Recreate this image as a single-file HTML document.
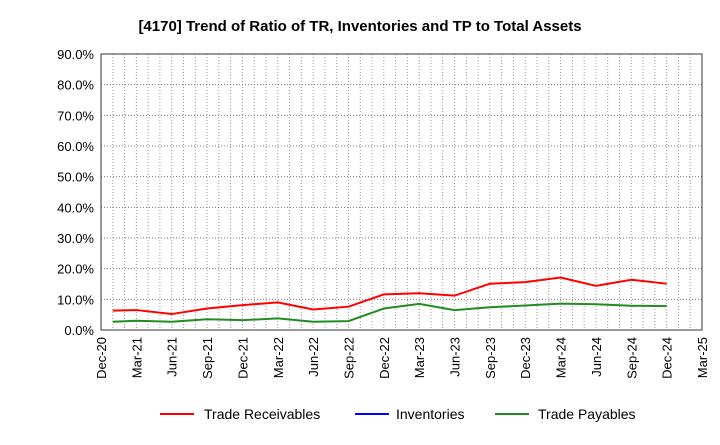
<!DOCTYPE html>
<html><head><meta charset="utf-8"><style>
body{margin:0;background:#fff;font-family:"Liberation Sans",sans-serif}
</style></head><body>
<svg id="c" width="720" height="440" xmlns="http://www.w3.org/2000/svg">
<text x="360" y="31" text-anchor="middle" font-size="15" font-weight="bold">[4170]  Trend of Ratio of TR, Inventories and TP to Total Assets</text>
<g id="grid"></g><g id="axes"></g><g id="series"></g>
<g>
<line x1="160" y1="414" x2="194" y2="414" stroke="#ff0000" stroke-width="2"/>
<text x="204" y="419" font-size="14">Trade Receivables</text>
<line x1="355" y1="414" x2="389" y2="414" stroke="#0000ff" stroke-width="2"/>
<text x="396" y="419" font-size="14">Inventories</text>
<line x1="495" y1="414" x2="529" y2="414" stroke="#228b22" stroke-width="2"/>
<text x="538" y="419" font-size="14">Trade Payables</text>
</g>
</svg>
<script>
const xTickLabels=["Dec-20","Mar-21","Jun-21","Sep-21","Dec-21","Mar-22","Jun-22","Sep-22","Dec-22","Mar-23","Jun-23","Sep-23","Dec-23","Mar-24","Jun-24","Sep-24","Dec-24","Mar-25"];
const yTicks=[0,10,20,30,40,50,60,70,80,90];
const pointMonths=[1,3,6,9,12,15,18,21,24,27,30,33,36,39,42,45,48];
const tradeReceivables=[6.3,6.5,5.2,7.0,8.1,9.0,6.7,7.6,11.6,12.0,11.2,15.1,15.6,17.1,14.4,16.4,15.1];
const inventories=[];
const tradePayables=[2.7,3.0,2.7,3.5,3.2,3.8,2.7,2.9,7.0,8.5,6.5,7.4,8.0,8.6,8.4,7.9,7.8];
const L=101,R=702,T=54,B=330;
const x=m=>L+(R-L)*m/51;
const y=v=>B-(B-T)*v/90;
const NS="http://www.w3.org/2000/svg";
function mk(p,t,a){const e=document.createElementNS(NS,t);for(const k in a)e.setAttribute(k,a[k]);p.appendChild(e);return e;}
const g=document.getElementById('grid'),ax=document.getElementById('axes'),s=document.getElementById('series');
for(let m=1;m<51;m++){const l=mk(g,'line',{x1:x(m),x2:x(m),y1:T,y2:B,stroke:'#999','stroke-dasharray':'1,2','stroke-width':1});

}
yTicks.forEach(v=>{if(v>0){const l=mk(g,'line',{x1:L,x2:R,y1:y(v),y2:y(v),stroke:'#777','stroke-dasharray':'1,2','stroke-width':1});

}
const t=mk(ax,'text',{x:L-7,y:y(v)+5,'text-anchor':'end','font-size':13});t.textContent=v.toFixed(1)+'%';

});
xTickLabels.forEach((lab,i)=>{const xx=x(i*3);const t=mk(ax,'text',{x:0,y:0,'text-anchor':'end','font-size':13,transform:`translate(${xx+5},${B+7}) rotate(-90)`});t.textContent=lab;

});
const fr=mk(ax,'rect',{x:L,y:T,width:R-L,height:B-T,fill:'none',stroke:'#333','stroke-width':1});


function line(vals,col,name){if(!vals.length)return;const p=mk(s,'polyline',{points:vals.map((v,i)=>x(pointMonths[i])+','+y(v)).join(' '),fill:'none',stroke:col,'stroke-width':2});

}
line(tradeReceivables,'#ff0000','trade-receivables-line');
line(inventories,'#0000ff','inventories-line');
line(tradePayables,'#228b22','trade-payables-line');
</script>
</body></html>
